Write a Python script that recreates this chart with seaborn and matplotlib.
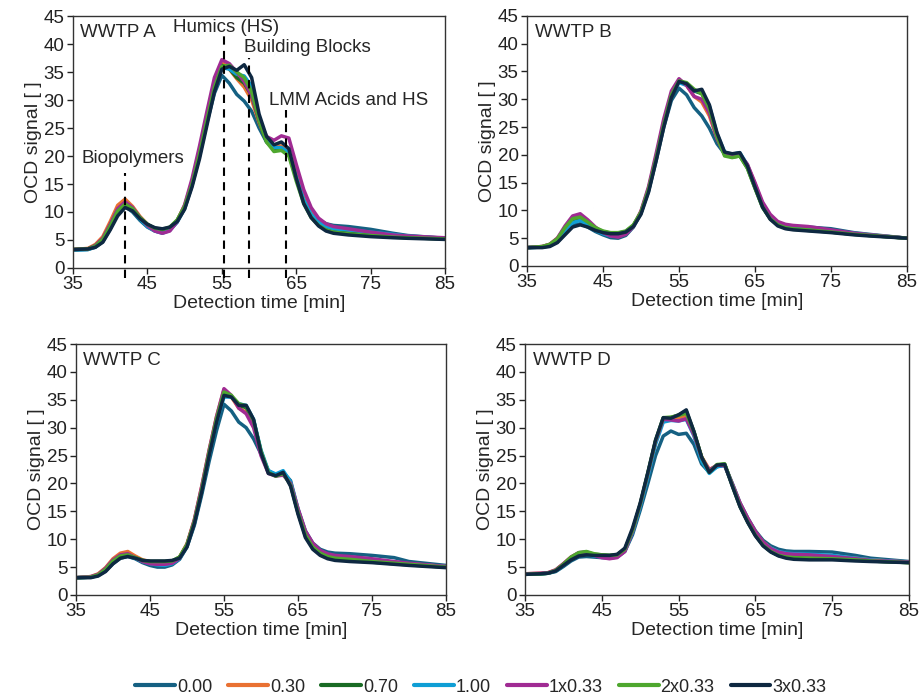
import numpy as np
import pandas as pd
import seaborn as sns
import matplotlib.pyplot as plt

# detection times [min] shared by all panels
times = [35, 37, 38, 39, 40, 41, 42, 43, 44, 45, 46, 47, 48, 49, 50, 51, 52, 53, 54, 55,
         56, 57, 58, 59, 60, 61, 62, 63, 64, 65, 66, 67, 68, 69, 70, 72, 75, 78, 80, 85]

series_names = ['0.00', '0.30', '0.70', '1.00', '1x0.33', '2x0.33', '3x0.33']
series_colors = ['#156082', '#E97132', '#196B24', '#0F9ED5', '#A02B93', '#4EA72E', '#0E2841']

# WWTP A
a_000 = [3.2, 3.3, 3.7, 4.7, 7.0, 9.8, 11.0, 10.0, 8.5, 7.3, 6.6, 6.3, 6.8, 8.2, 10.6, 14.8, 20.0, 26.0, 31.2, 34.4, 33.0, 31.0, 29.8, 28.0, 25.0, 22.5, 21.3, 21.4, 20.5, 16.5, 12.5, 10.0, 8.6, 7.9, 7.6, 7.4, 6.9, 6.2, 5.8, 5.3]
a_030 = [3.3, 3.5, 4.2, 5.6, 8.3, 11.2, 12.3, 11.0, 9.2, 7.8, 7.0, 6.7, 7.1, 8.5, 11.2, 15.5, 21.0, 27.0, 33.0, 36.8, 35.5, 33.8, 32.3, 30.0, 26.0, 22.8, 21.6, 21.8, 20.8, 17.0, 13.0, 10.2, 8.6, 7.6, 7.0, 6.6, 6.2, 5.8, 5.6, 5.3]
a_070 = [3.3, 3.4, 4.0, 5.2, 7.7, 10.4, 11.5, 10.6, 9.0, 7.8, 7.0, 6.8, 7.2, 8.5, 11.0, 15.0, 20.5, 26.5, 32.5, 36.2, 35.6, 34.0, 33.0, 30.8, 26.3, 22.6, 21.2, 21.3, 20.3, 16.0, 12.0, 9.3, 7.8, 6.9, 6.5, 6.2, 5.9, 5.6, 5.4, 5.2]
a_100 = [3.2, 3.3, 3.8, 4.9, 7.3, 10.0, 11.2, 10.3, 8.7, 7.4, 6.6, 6.2, 6.7, 8.2, 10.8, 15.0, 20.3, 26.2, 32.0, 35.8, 35.5, 34.6, 34.3, 32.5, 27.0, 23.0, 21.5, 21.5, 20.6, 16.2, 12.2, 9.6, 8.2, 7.4, 7.0, 6.8, 6.4, 6.0, 5.7, 5.3]
a_1x = [3.3, 3.4, 4.0, 5.3, 7.8, 10.6, 11.8, 10.8, 9.0, 7.6, 6.6, 6.2, 6.6, 8.3, 11.3, 16.0, 21.8, 28.0, 34.0, 37.2, 36.5, 35.0, 33.3, 30.8, 26.5, 23.5, 22.8, 23.6, 23.2, 18.5, 14.0, 10.8, 8.9, 7.9, 7.4, 7.0, 6.4, 5.9, 5.7, 5.4]
a_2x = [3.3, 3.4, 3.9, 5.1, 7.5, 10.2, 11.4, 10.6, 9.0, 7.8, 7.1, 6.9, 7.3, 8.6, 11.0, 15.0, 20.4, 26.5, 32.3, 36.0, 36.2, 35.0, 34.0, 31.5, 26.5, 22.5, 20.8, 21.0, 20.0, 15.5, 11.5, 9.0, 7.6, 6.8, 6.4, 6.1, 5.8, 5.5, 5.4, 5.2]
a_3x = [3.3, 3.4, 3.7, 4.6, 6.8, 9.3, 10.8, 10.2, 8.8, 7.8, 7.2, 7.0, 7.3, 8.3, 10.5, 14.5, 19.5, 25.5, 31.5, 35.5, 36.0, 35.3, 36.3, 34.0, 27.5, 23.5, 22.0, 22.5, 21.3, 16.0, 11.5, 9.0, 7.5, 6.6, 6.2, 5.9, 5.6, 5.4, 5.3, 5.1]

# WWTP B
b_000 = [3.3, 3.4, 3.6, 4.3, 5.8, 7.3, 7.6, 7.0, 6.2, 5.6, 5.1, 5.0, 5.5, 7.0, 9.5, 13.5, 19.0, 25.0, 29.8, 32.0, 30.8, 28.5, 27.0, 24.8, 22.0, 20.2, 20.0, 20.2, 18.0, 14.5, 11.0, 8.9, 7.8, 7.3, 7.1, 7.0, 6.7, 6.0, 5.7, 5.0]
b_030 = [3.3, 3.5, 3.9, 5.0, 6.9, 8.6, 9.0, 8.0, 6.8, 6.0, 5.5, 5.3, 5.8, 7.2, 9.8, 14.0, 19.8, 26.0, 31.0, 33.5, 32.5, 30.5, 29.5, 27.0, 23.0, 20.2, 19.8, 20.0, 18.2, 14.8, 11.2, 9.0, 7.9, 7.3, 7.0, 6.8, 6.3, 5.8, 5.6, 5.0]
b_070 = [3.3, 3.4, 3.8, 4.8, 6.7, 8.3, 8.6, 7.8, 6.8, 6.2, 5.9, 5.9, 6.2, 7.3, 9.6, 13.8, 19.5, 25.5, 30.8, 33.4, 32.8, 31.5, 31.0, 28.5, 23.5, 20.0, 19.6, 19.8, 17.6, 14.0, 10.5, 8.5, 7.4, 6.8, 6.6, 6.4, 6.1, 5.7, 5.5, 5.0]
b_100 = [3.3, 3.4, 3.7, 4.5, 6.2, 7.8, 8.2, 7.4, 6.4, 5.8, 5.4, 5.3, 5.8, 7.1, 9.6, 13.8, 19.5, 25.5, 30.6, 33.0, 32.5, 31.5, 31.3, 28.8, 23.8, 20.5, 20.1, 20.4, 18.2, 14.6, 11.0, 8.8, 7.6, 7.0, 6.8, 6.6, 6.3, 5.9, 5.6, 5.0]
b_1x = [3.3, 3.5, 3.9, 5.0, 7.2, 9.0, 9.4, 8.3, 7.0, 6.0, 5.4, 5.2, 5.7, 7.1, 9.9, 14.3, 20.3, 26.5, 31.5, 33.7, 32.5, 30.5, 30.0, 27.5, 23.0, 20.2, 19.8, 20.0, 18.3, 15.0, 11.5, 9.3, 8.0, 7.5, 7.3, 7.1, 6.5, 5.9, 5.6, 5.0]
b_2x = [3.3, 3.5, 3.9, 4.9, 6.9, 8.5, 8.8, 7.9, 6.9, 6.3, 6.0, 6.0, 6.3, 7.4, 9.7, 13.8, 19.5, 25.5, 30.8, 33.3, 33.0, 31.8, 31.0, 28.3, 23.3, 19.8, 19.5, 19.8, 17.6, 14.0, 10.6, 8.5, 7.4, 6.9, 6.7, 6.5, 6.1, 5.7, 5.5, 5.0]
b_3x = [3.3, 3.3, 3.5, 4.2, 5.6, 7.0, 7.4, 7.0, 6.4, 6.0, 5.8, 5.8, 6.1, 7.1, 9.3, 13.3, 19.0, 25.0, 30.3, 33.2, 32.8, 31.5, 31.8, 29.0, 24.0, 20.5, 20.2, 20.4, 18.0, 14.2, 10.6, 8.4, 7.2, 6.7, 6.5, 6.3, 6.0, 5.6, 5.4, 5.0]

# WWTP C
c_000 = [3.1, 3.2, 3.5, 4.3, 5.6, 6.6, 6.9, 6.5, 5.8, 5.3, 5.0, 5.0, 5.4, 6.4, 8.6, 12.5, 18.0, 24.0, 29.5, 34.2, 33.0, 31.0, 30.0, 28.0, 25.3, 22.3, 21.5, 22.0, 20.5, 15.5, 11.5, 9.3, 8.2, 7.7, 7.5, 7.4, 7.1, 6.7, 6.0, 5.3]
c_030 = [3.1, 3.3, 3.8, 4.9, 6.5, 7.5, 7.8, 7.0, 6.3, 6.0, 5.8, 5.7, 5.9, 6.8, 9.2, 13.5, 19.5, 26.0, 32.0, 36.8, 35.5, 33.5, 32.8, 30.5, 25.5, 22.0, 21.5, 21.8, 20.0, 15.0, 11.0, 8.8, 7.7, 7.1, 6.8, 6.6, 6.2, 5.8, 5.6, 5.1]
c_070 = [3.1, 3.2, 3.6, 4.6, 6.1, 7.0, 7.2, 6.7, 6.2, 6.0, 6.0, 6.0, 6.1, 6.8, 9.0, 13.2, 19.0, 25.5, 31.5, 36.2, 35.6, 34.0, 33.6, 31.3, 25.8, 22.0, 21.4, 21.9, 19.8, 14.8, 10.6, 8.4, 7.3, 6.7, 6.4, 6.2, 5.9, 5.6, 5.4, 5.0]
c_100 = [3.1, 3.2, 3.5, 4.5, 5.9, 6.8, 7.1, 6.6, 6.0, 5.6, 5.4, 5.3, 5.6, 6.5, 8.8, 12.9, 18.7, 25.0, 31.0, 35.5, 35.5, 34.3, 34.0, 31.5, 26.0, 22.3, 21.7, 22.3, 20.3, 15.3, 11.0, 8.8, 7.7, 7.1, 6.8, 6.6, 6.3, 5.9, 5.6, 5.1]
c_1x = [3.1, 3.3, 3.7, 4.8, 6.3, 7.2, 7.4, 6.7, 6.0, 5.6, 5.5, 5.5, 5.7, 6.6, 9.0, 13.5, 19.5, 26.0, 32.0, 37.0, 35.8, 33.5, 32.5, 30.0, 25.0, 21.8, 21.3, 21.5, 20.0, 15.5, 11.5, 9.3, 8.0, 7.4, 7.1, 6.9, 6.5, 6.0, 5.7, 5.1]
c_2x = [3.1, 3.2, 3.6, 4.6, 6.1, 7.0, 7.2, 6.7, 6.2, 6.0, 6.0, 6.0, 6.1, 6.8, 9.0, 13.2, 19.0, 25.6, 31.6, 36.4, 35.8, 34.3, 33.9, 31.3, 25.8, 22.0, 21.3, 21.8, 19.7, 14.8, 10.8, 8.6, 7.5, 6.9, 6.6, 6.4, 6.0, 5.7, 5.5, 5.0]
c_3x = [3.1, 3.1, 3.4, 4.2, 5.6, 6.6, 6.9, 6.6, 6.2, 6.1, 6.1, 6.1, 6.2, 6.6, 8.6, 12.8, 18.5, 25.0, 31.0, 35.8, 35.5, 34.0, 34.0, 31.5, 25.5, 21.8, 21.4, 22.0, 19.5, 14.5, 10.3, 8.2, 7.1, 6.5, 6.2, 6.0, 5.8, 5.5, 5.3, 4.9]

# WWTP D
d_000 = [3.7, 3.8, 3.9, 4.2, 5.1, 6.1, 6.8, 6.9, 6.8, 6.7, 6.6, 6.8, 7.8, 10.8, 15.2, 20.0, 25.0, 28.5, 29.4, 28.8, 29.0, 27.0, 23.5, 22.0, 23.0, 23.3, 20.0, 16.5, 13.8, 11.5, 9.8, 8.8, 8.2, 7.9, 7.8, 7.8, 7.7, 7.1, 6.6, 6.0]
d_030 = [3.8, 3.9, 4.0, 4.5, 5.6, 6.8, 7.5, 7.6, 7.2, 7.0, 6.9, 7.0, 8.0, 11.5, 16.2, 21.7, 27.5, 31.5, 31.6, 31.6, 32.2, 29.0, 24.8, 22.5, 23.2, 23.3, 19.8, 16.3, 13.6, 11.3, 9.5, 8.4, 7.7, 7.4, 7.3, 7.2, 7.0, 6.6, 6.3, 5.9]
d_070 = [3.7, 3.8, 3.9, 4.4, 5.5, 6.7, 7.5, 7.7, 7.3, 7.2, 7.1, 7.2, 8.2, 11.6, 16.2, 21.8, 27.6, 31.7, 31.8, 32.3, 33.0, 29.3, 24.7, 22.0, 23.3, 23.5, 19.6, 15.9, 13.1, 10.7, 8.9, 7.8, 7.1, 6.8, 6.7, 6.6, 6.5, 6.3, 6.1, 5.8]
d_100 = [3.7, 3.8, 3.9, 4.3, 5.3, 6.5, 7.2, 7.3, 7.0, 6.8, 6.7, 6.9, 7.9, 11.2, 15.8, 21.2, 27.0, 31.0, 31.3, 31.2, 31.5, 28.5, 24.0, 21.8, 23.0, 23.2, 19.8, 16.2, 13.5, 11.2, 9.4, 8.4, 7.8, 7.5, 7.4, 7.3, 7.1, 6.6, 6.3, 5.9]
d_1x = [3.8, 3.9, 4.0, 4.5, 5.6, 6.8, 7.6, 7.7, 7.1, 6.7, 6.5, 6.7, 7.8, 11.4, 16.2, 21.7, 27.5, 31.5, 31.4, 31.2, 31.6, 28.7, 24.6, 22.4, 23.3, 23.2, 19.9, 16.5, 13.8, 11.4, 9.5, 8.3, 7.7, 7.4, 7.3, 7.2, 6.9, 6.5, 6.2, 5.9]
d_2x = [3.7, 3.8, 3.9, 4.4, 5.5, 6.8, 7.6, 7.8, 7.4, 7.2, 7.1, 7.2, 8.2, 11.6, 16.3, 21.9, 27.7, 31.8, 31.9, 32.2, 32.6, 29.2, 24.7, 22.0, 23.4, 23.5, 19.6, 15.9, 13.1, 10.7, 8.9, 7.8, 7.1, 6.8, 6.7, 6.6, 6.5, 6.3, 6.1, 5.8]
d_3x = [3.7, 3.8, 3.9, 4.3, 5.3, 6.3, 7.0, 7.2, 7.1, 7.1, 7.1, 7.3, 8.4, 12.0, 16.5, 22.0, 27.8, 31.8, 31.7, 32.3, 33.2, 29.3, 24.7, 22.0, 23.3, 23.4, 19.5, 15.8, 13.0, 10.6, 8.8, 7.7, 7.0, 6.6, 6.4, 6.3, 6.3, 6.1, 6.0, 5.8]

panels = {
    'WWTP A': [a_000, a_030, a_070, a_100, a_1x, a_2x, a_3x],
    'WWTP B': [b_000, b_030, b_070, b_100, b_1x, b_2x, b_3x],
    'WWTP C': [c_000, c_030, c_070, c_100, c_1x, c_2x, c_3x],
    'WWTP D': [d_000, d_030, d_070, d_100, d_1x, d_2x, d_3x],
}

# fraction labels for panel A: (text, dashed line at, line top, text x, text y)
fractions = [('Biopolymers', 42.0, 17.0, 43.1, 19.5),
             ('Humics (HS)', 55.3, 41.5, 55.5, 43.0),
             ('Building Blocks', 58.6, 37.5, 66.5, 39.3),
             ('LMM Acids and HS', 63.6, 28.3, 72.0, 30.0)]

sns.set_style("ticks")
plt.rcParams['font.family'] = ['Liberation Sans', 'DejaVu Sans']
plt.rcParams['font.size'] = 13

fig = plt.figure(figsize=(9.21, 6.99), dpi=100)
boxes = [[0.0793, 0.6166, 0.4040, 0.3605],
         [0.5722, 0.6195, 0.4126, 0.3577],
         [0.0825, 0.1488, 0.4017, 0.3590],
         [0.5700, 0.1488, 0.4170, 0.3590]]
palette = dict(zip(series_names, series_colors))

for box, (name, values) in zip(boxes, panels.items()):
    ax = fig.add_axes(box)
    df = pd.DataFrame({
        'time': times * len(series_names),
        'signal': np.concatenate(values),
        'series': np.repeat(series_names, len(times)),
    })
    sns.lineplot(data=df, x='time', y='signal', hue='series', palette=palette,
                 hue_order=series_names, estimator=None, sort=False,
                 linewidth=2.5, legend=False, ax=ax)
    for ln in ax.lines:
        ln.set_solid_joinstyle('round')
        ln.set_solid_capstyle('round')
    ax.set_xlim(35, 85)
    ax.set_ylim(0, 45)
    ax.set_xticks(range(35, 86, 10))
    ax.set_yticks(range(0, 46, 5))
    ax.set_xlabel('Detection time [min]', fontsize=14, labelpad=1)
    ax.set_ylabel('OCD signal [ ]', fontsize=14, labelpad=1)
    ax.tick_params(labelsize=13.5, length=4, width=1, colors='#222222', pad=2)
    for sp in ax.spines.values():
        sp.set_visible(True)
        sp.set_color('#333333')
        sp.set_linewidth(1)
    ax.text(0.02, 0.935, name, transform=ax.transAxes, fontsize=13.5, va='center', ha='left')
    if name == 'WWTP A':
        for label, xline, ytop, xt, yt in fractions:
            ax.plot([xline, xline], [-1.8, ytop], color='black', lw=1.5,
                    ls=(0, (4, 3)), clip_on=False, zorder=5)
            ax.text(xt, yt, label, fontsize=13.5, ha='center', va='center')

handles = [plt.Line2D([], [], color=c, lw=3) for c in series_colors]
fig.legend(handles, series_names, loc='center', bbox_to_anchor=(0.522, 0.017), ncol=7,
           frameon=False, handlelength=2.2, handletextpad=0.1, columnspacing=0.9,
           prop={'family': ['Liberation Sans Narrow', 'Liberation Sans'], 'size': 13})

fig.savefig('out.png', dpi=100)
